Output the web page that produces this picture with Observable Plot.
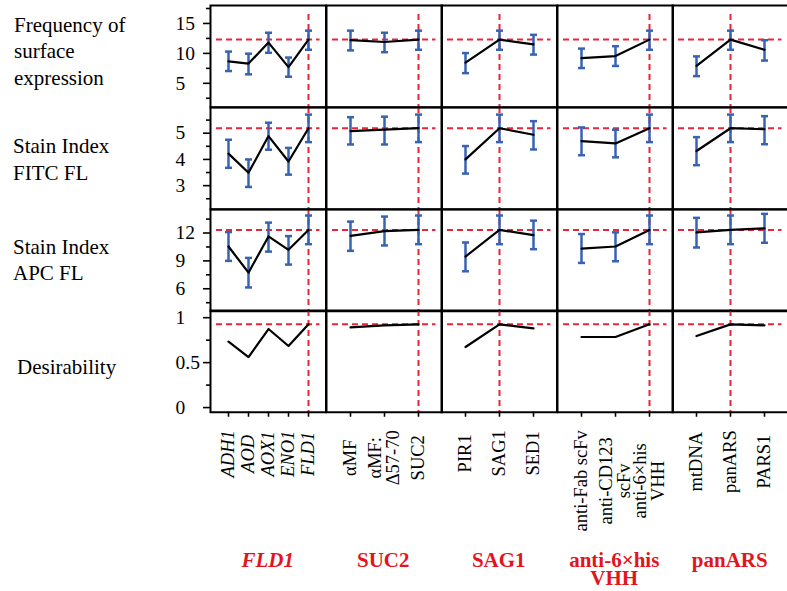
<!DOCTYPE html>
<html><head><meta charset="utf-8">
<script src="https://cdn.jsdelivr.net/npm/d3@7"></script>
<script src="https://cdn.jsdelivr.net/npm/@observablehq/plot@0.6"></script>
<style>
body{margin:0;background:#fff;}
#chart{position:relative;width:787px;height:591px;overflow:hidden;font-family:"Liberation Serif","Times New Roman",serif;color:#000;background:#fff;}
.cell{position:absolute;}
.rowlab{position:absolute;font-family:"Liberation Serif",serif;font-size:21px;line-height:26.5px;white-space:pre;}
.grouplab{position:absolute;width:115.5px;text-align:center;color:#e3141c;font-family:"Liberation Serif",serif;font-weight:bold;font-size:21px;line-height:18px;white-space:pre;}
</style></head><body><div id="chart"></div>
<script>
// ---- data ----
const groups = ["FLD1", "SUC2", "SAG1", "anti-6×his\nVHH", "panARS"];
const groupItems = [
  ["ADH1", "AOD", "AOX1", "ENO1", "FLD1"],
  ["αMF", "αMF:\nΔ57-70", "SUC2"],
  ["PIR1", "SAG1", "SED1"],
  ["anti-Fab scFv", "anti-CD123\nscFv", "anti-6×his\nVHH"],
  ["mtDNA", "panARS", "PARS1"]
];
const selectedItems = ["FLD1", "SUC2", "SAG1", "anti-6×his\nVHH", "panARS"];
const italicGroups = [true, false, false, false, false];
const responses = ["Frequency of\nsurface\nexpression", "Stain Index\nFITC FL", "Stain Index\nAPC FL", "Desirability"];
const yDomains = [[1, 18], [2.1, 5.98], [3.58, 14.53], [-0.052, 1.08]];
const yMajorTicks = [[5, 10, 15], [3, 4, 5], [6, 9, 12], [0, 0.5, 1]];
const yMinorTicks = [[2.5, 7.5, 12.5, 17.5], [2.5, 3.5, 4.5, 5.5], [4.5, 7.5, 10.5, 13.5], [0.25, 0.75]];
const currentValues = [12.3, 5.19, 12.33, 0.926];

const freqMean = [[8.67, 8.3, 11.8, 7.7, 12.3], [12.2, 11.9, 12.3], [8.45, 12.3, 11.5], [9.2, 9.55, 12.3], [7.9, 12.3, 10.6]];
const freqLo   = [[7.05, 6.5, 10.1, 6.1, 10.6], [10.5, 10.2, 10.6], [6.7, 10.6, 9.8], [7.55, 7.9, 10.6], [6.2, 10.6, 8.8]];
const freqHi   = [[10.3, 9.95, 13.45, 9.3, 13.8], [13.8, 13.45, 13.8], [10.05, 13.8, 13.1], [10.8, 11.2, 13.8], [9.5, 13.8, 12.2]];

const fitcMean = [[4.22, 3.49, 4.89, 3.92, 5.19], [5.08, 5.14, 5.19], [4.0, 5.19, 4.94], [4.70, 4.61, 5.19], [4.32, 5.19, 5.15]];
const fitcLo   = [[3.68, 2.95, 4.37, 3.42, 4.66], [4.57, 4.57, 4.66], [3.46, 4.66, 4.38], [4.16, 4.08, 4.66], [3.78, 4.66, 4.58]];
const fitcHi   = [[4.75, 4.0, 5.4, 4.44, 5.71], [5.61, 5.63, 5.71], [4.51, 5.71, 5.46], [5.22, 5.13, 5.71], [4.85, 5.71, 5.65]];

const apcMean = [[10.55, 7.73, 11.63, 10.19, 12.33], [11.7, 12.2, 12.33], [9.47, 12.33, 11.78], [10.33, 10.55, 12.33], [12.07, 12.33, 12.5]];
const apcLo   = [[9.0, 6.14, 10.0, 8.6, 10.8], [10.08, 10.66, 10.8], [7.88, 10.8, 10.26], [8.78, 8.96, 10.8], [10.44, 10.8, 10.95]];
const apcHi   = [[12.1, 9.32, 13.12, 11.67, 13.88], [13.23, 13.77, 13.88], [10.98, 13.88, 13.33], [11.89, 12.07, 13.88], [13.63, 13.88, 14.06]];

const desirability = [[0.733, 0.562, 0.874, 0.685, 0.926], [0.892, 0.914, 0.926], [0.674, 0.926, 0.881], [0.785, 0.785, 0.926], [0.796, 0.926, 0.914]];

// ---- layout / style ----
const RED_DASH = "#e8263a", BLUE = "#3763b3";
const left0 = 210, cellW = 115.5, top0 = 5, cellH = 101.75;
const means = [freqMean, fitcMean, apcMean, desirability];
const lows = [freqLo, fitcLo, apcLo, null];
const highs = [freqHi, fitcHi, apcHi, null];
const rowLabelPos = [{left: 14, top: 11.5}, {left: 13, top: 133}, {left: 13, top: 233.5}, {left: 17, top: 354}];
const capSymbol = {draw(ctx) { ctx.moveTo(-3.5, 0); ctx.lineTo(3.5, 0); }};

const chart = document.getElementById("chart");
const mctx = document.createElement("canvas").getContext("2d");
function labelLen(items, italic) {
  mctx.font = `${italic ? "italic " : ""}18.5px "Liberation Serif"`;
  return d3.max(items, s => d3.max(s.split("\n"), l => mctx.measureText(l).width));
}

responses.forEach((t, r) => {
  const d = document.createElement("div");
  d.className = "rowlab";
  d.textContent = t;
  d.style.left = rowLabelPos[r].left + "px";
  d.style.top = rowLabelPos[r].top + "px";
  chart.appendChild(d);
});

for (let r = 0; r < 4; r++) {
  for (let g = 0; g < 5; g++) {
    const items = groupItems[g];
    const data = items.map((item, i) => ({
      item,
      mean: means[r][g][i],
      lo: lows[r] ? lows[r][g][i] : null,
      hi: highs[r] ? highs[r][g][i] : null
    }));
    const ml = g === 0 ? 40 : 1, mr = 1, mt = 1, mb = r === 3 ? 140 : 1;
    const marks = [
      Plot.ruleY([currentValues[r]], {stroke: RED_DASH, strokeWidth: 2, strokeDasharray: "6,4", insetLeft: 6, insetRight: 6}),
      Plot.ruleX([selectedItems[g]], {stroke: RED_DASH, strokeWidth: 2, strokeDasharray: "6,4", insetTop: r === 0 ? 9 : 0})
    ];
    if (lows[r]) {
      marks.push(Plot.ruleX(data, {x: "item", y1: "lo", y2: "hi", stroke: BLUE, strokeWidth: 2.5}));
      marks.push(Plot.dot(data, {x: "item", y: "lo", symbol: capSymbol, fill: "none", stroke: BLUE, strokeWidth: 2.5}));
      marks.push(Plot.dot(data, {x: "item", y: "hi", symbol: capSymbol, fill: "none", stroke: BLUE, strokeWidth: 2.5}));
    }
    marks.push(Plot.line(data, {x: "item", y: "mean", stroke: "#000", strokeWidth: 2.2}));
    if (g === 0) {
      marks.push(Plot.axisY(yMajorTicks[r], {tickSize: 7, strokeWidth: 1.6, tickFormat: () => "", label: null}));
      marks.push(Plot.axisY(yMinorTicks[r], {tickSize: 4, strokeWidth: 1.6, tickFormat: () => "", label: null}));
      marks.push(Plot.text(yMajorTicks[r], {y: d => d, text: d => String(d), frameAnchor: "left", textAnchor: "start", dx: -35, fontSize: 19.5}));
    }
    if (r === 3) {
      const italic = italicGroups[g];
      const off = 18 + labelLen(items, italic) / 2;
      marks.push(Plot.axisX({tickSize: 5, strokeWidth: 1.6, tickFormat: () => "", label: null}));
      marks.push(Plot.text(items, {x: d => d, text: d => d, frameAnchor: "bottom", dy: off, rotate: -90,
        textAnchor: "middle", lineAnchor: "middle", lineHeight: 0.95, fontSize: 18.5,
        fontStyle: italic ? "italic" : "normal"}));
    }
    marks.push(Plot.frame({stroke: "#000", strokeWidth: 2}));
    const xOpts = {type: "point", domain: items, padding: items.length > 3 ? 0.78 : 0.68, label: null};
    if (r !== 3) xOpts.axis = null;
    const yOpts = {domain: yDomains[r], label: null};
    if (g !== 0) yOpts.axis = null;
    const svg = Plot.plot({
      width: cellW + ml + mr, height: cellH + mt + mb,
      marginLeft: ml, marginRight: mr, marginTop: mt, marginBottom: mb,
      x: xOpts, y: yOpts,
      style: {fontFamily: '"Liberation Serif", "Times New Roman", serif', fontSize: "19.5px", background: "none", overflow: "visible", color: "#000"},
      marks
    });
    svg.classList.add("cell");
    svg.style.position = "absolute";
    svg.style.left = (left0 + g * cellW - ml) + "px";
    svg.style.top = (top0 + r * cellH - mt) + "px";
    svg.style.maxWidth = "none";
    chart.appendChild(svg);
  }
}

groups.forEach((t, g) => {
  const d = document.createElement("div");
  d.className = "grouplab";
  d.textContent = t;
  if (italicGroups[g]) d.style.fontStyle = "italic";
  d.style.left = (left0 + g * cellW) + "px";
  d.style.top = "551px";
  chart.appendChild(d);
});
</script></body></html>
